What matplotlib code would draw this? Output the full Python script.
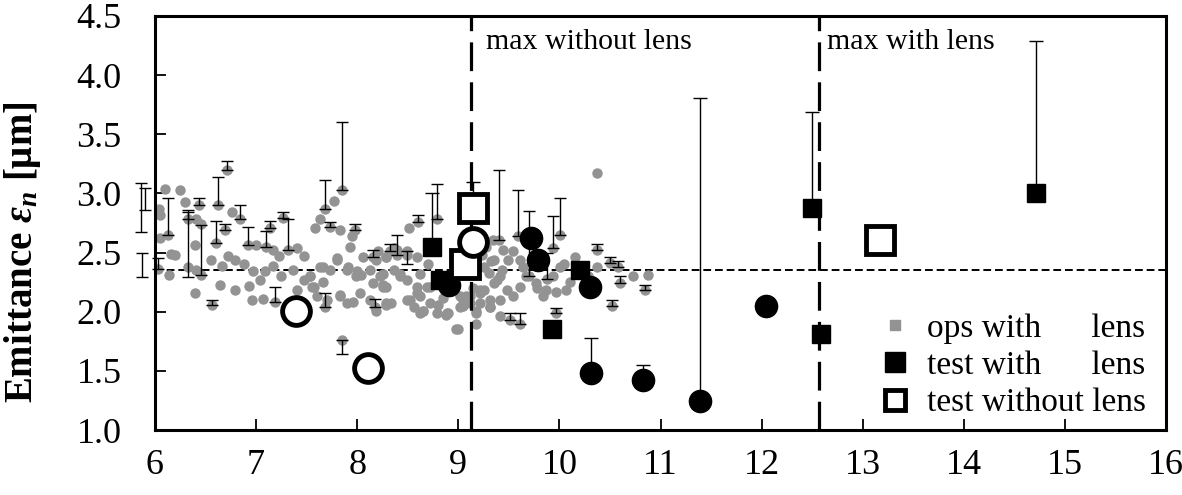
import numpy as np
import matplotlib
matplotlib.use("Agg")
import matplotlib.pyplot as plt
from matplotlib.lines import Line2D

plt.rcParams["font.family"] = ["Liberation Serif", "DejaVu Serif"]
plt.rcParams["mathtext.fontset"] = "custom"
plt.rcParams["mathtext.rm"] = "Liberation Serif:bold"
plt.rcParams["mathtext.it"] = "Liberation Serif:italic:bold"
plt.rcParams["mathtext.bf"] = "Liberation Serif:bold"

# --- operations with lens: position, emittance, upper / lower bar ends ---
ops_x = [6.71, 6.10, 6.25, 6.04, 6.30, 6.44, 6.62, 6.76, 6.84, 6.33, 6.41, 6.46,
         6.13, 7.27, 7.14, 6.69, 6.60, 6.40, 6.16, 6.92, 7.00, 7.10, 7.17, 7.32,
         6.79, 6.66, 6.33, 6.41, 6.46, 6.14, 6.97, 7.09, 7.17, 7.37, 6.64, 6.40,
         6.79, 6.56, 6.96, 7.07, 7.19, 6.05, 6.03,
         7.85, 7.68, 7.77, 7.63, 7.58, 7.73, 7.83, 7.98, 7.95, 7.93, 7.80, 7.66,
         7.40, 7.47, 7.91, 8.00, 8.04, 8.16, 8.21, 8.39, 8.32, 8.49, 8.51, 8.60,
         8.79, 7.53, 7.55, 7.66, 7.68, 7.83, 7.96, 8.18, 8.29, 8.23, 8.29, 8.42,
         8.52, 8.59, 8.65, 8.72, 8.80, 8.90, 8.98, 7.85,
         10.37, 9.40, 9.59, 9.54, 9.61, 9.64, 10.01, 9.94, 10.01, 9.35, 9.43, 9.38,
         9.25, 9.12, 9.21, 9.31, 9.18, 9.41, 9.51, 9.61, 9.84, 9.97, 10.37, 10.37,
         10.50, 10.58, 10.60, 10.73, 10.88, 10.85, 10.52, 9.97, 9.18,
         8.36, 8.49, 8.29, 8.26, 8.33, 8.62, 8.89, 9.34, 9.32, 9.44, 9.49, 9.00,
         9.02, 9.08, 9.21, 9.31, 9.23, 9.27, 9.30, 10.15, 10.10, 10.28, 9.70,
         9.78, 9.88, 10.05, 8.70, 8.85, 8.95, 9.05, 9.15,
         5.86, 5.90, 5.87]
ops_y = [3.20, 3.04, 3.03, 2.87, 2.93, 2.90, 2.90, 2.84, 2.78, 2.78, 2.78, 2.74,
         2.65, 2.79, 2.71, 2.69, 2.58, 2.56, 2.49, 2.56, 2.56, 2.55, 2.52, 2.52,
         2.44, 2.39, 2.38, 2.35, 2.31, 2.31, 2.34, 2.34, 2.39, 2.35, 2.23, 2.16,
         2.18, 2.06, 2.10, 2.11, 2.08, 2.82, 2.36,
         3.03, 2.87, 2.94, 2.78, 2.71, 2.72, 2.69, 2.69, 2.64, 2.55, 2.45, 2.38,
         2.54, 2.47, 2.38, 2.34, 2.31, 2.46, 2.51, 2.48, 2.51, 2.51, 2.71, 2.76,
         2.78, 2.30, 2.21, 2.25, 2.04, 2.14, 2.08, 2.04, 2.06, 2.30, 2.21, 2.32,
         2.10, 2.16, 2.01, 2.21, 2.06, 1.99, 1.85, 1.76,
         3.17, 2.61, 2.64, 2.51, 2.44, 2.38, 2.65, 2.54, 2.38, 2.44, 2.35, 2.27,
         2.18, 2.13, 2.07, 2.04, 1.99, 1.96, 1.93, 1.90, 2.13, 2.17, 2.52, 2.38,
         2.41, 2.38, 2.24, 2.30, 2.31, 2.18, 2.05, 1.99, 1.90,
         2.54, 2.48, 2.46, 2.23, 2.07, 1.99, 1.99, 2.61, 2.43, 2.52, 2.44, 1.85,
         2.13, 2.09, 2.16, 2.10, 2.48, 2.55, 2.33, 2.46, 2.25, 2.30, 2.30,
         2.20, 2.28, 2.40, 2.40, 2.12, 2.25, 2.05, 2.20,
         2.67, 2.86, 2.29]
ops_top = [3.27, None, None, None, None, 2.96, 3.14, None, 2.90, 2.84, None, None,
           2.96, 2.84, 2.77, 2.74, 2.77, None, None, 2.72, None, 2.68, None, 2.78,
           None, None, 2.86, None, 2.73, None, None, None, None, None, None, None,
           None, 2.10, None, None, 2.21, None, 2.45,
           3.60, 3.11, None, None, None, 2.76, None, 2.74, None, None, None, None,
           None, None, None, None, None, 2.52, None, 2.65, 2.57, None, None, 2.82,
           3.08, None, None, None, 2.16, None, None, 2.11, None, None, None, None,
           None, None, None, None, None, None, None, None,
           None, 3.20, 3.03, None, None, None, 2.96, 2.81, None, None, None, None,
           None, None, None, None, None, None, 1.99, 1.99, None, None, 2.57, None,
           2.46, 2.43, 2.30, None, None, 2.23, 2.10, 2.03, None,
           None, None, None, None, None, None, None, None, None, None, None, None,
           None, None, None, None, None, None, None, None, None, None, 2.85,
           None, 2.50, None, None, None, None, None, None,
           3.09, 3.05, 2.50]
ops_low = {26: 2.29, 86: 1.64, 64: 2.40}

# operations without error bars in the dense band
ops_dense_x = [8.49, 8.56, 8.62, 8.65, 8.72, 8.79, 8.88, 9.05, 9.12, 9.18, 8.49,
               8.59, 8.69, 8.62, 8.59, 8.39, 8.29, 8.19, 8.06, 8.13, 8.26, 8.36,
               8.42, 7.99, 8.03, 8.16, 8.26, 7.90, 7.80, 7.73, 7.63, 7.53, 7.57,
               7.47, 7.40, 7.60, 7.70, 7.83, 7.90, 8.13, 8.19, 8.29,
               9.25, 9.35, 9.41, 9.48, 9.54, 9.61, 9.21, 9.08, 9.02, 9.31, 9.41,
               9.67, 9.77, 9.87, 9.94, 10.07,
               6.05, 6.20, 6.55, 6.72, 6.88, 7.23, 7.25, 6.93, 7.04]
ops_dense_y = [2.10, 2.04, 2.13, 2.01, 2.07, 1.99, 1.97, 2.10, 2.07, 2.01, 2.27,
               2.21, 2.21, 2.32, 2.46, 2.52, 2.46, 2.44, 2.46, 2.35, 2.32, 2.35,
               2.30, 2.30, 2.16, 2.24, 2.21, 2.35, 2.44, 2.35, 2.38, 2.30, 2.21,
               2.27, 2.18, 2.13, 2.10, 2.13, 2.07, 2.10, 2.01, 2.07,
               2.38, 2.24, 2.30, 2.18, 2.13, 2.21, 2.18, 2.13, 2.04, 2.04, 2.10,
               2.30, 2.24, 2.18, 2.30, 2.18,
               2.62, 2.48, 2.44, 2.47, 2.40, 2.47, 2.30, 2.22, 2.27]

# --- tests with lens ---
sq_x = [8.74, 8.82, 9.93, 10.20, 12.50, 12.59, 14.71]
sq_y = [2.55, 2.27, 1.85, 2.35, 2.88, 1.81, 3.00]
sq_top = [3.00, None, None, None, 3.69, None, 4.29]

circ_x = [9.72, 9.79, 10.30, 10.31, 10.83, 11.39, 12.04, 8.91]
circ_y = [2.62, 2.44, 2.21, 1.48, 1.42, 1.245, 2.05, 2.23]
circ_top = [None, None, None, 1.78, 1.55, 3.81, None, None]

# --- tests without lens ---
osq_x = [9.15, 9.07, 13.17]
osq_y = [2.88, 2.40, 2.61]
osq_top = [3.10, None, None]

ocirc_x = [9.15, 7.39, 8.11]
ocirc_y = [2.59, 2.01, 1.52]

max_without_lens = 9.125
max_with_lens = 12.57
reference_level = 2.35


def bars(xs, ys, tops, lows=None):
    bx, by, lo, hi = [], [], [], []
    for i, (x, y, t) in enumerate(zip(xs, ys, tops)):
        low = (lows or {}).get(i)
        if t is None and low is None:
            continue
        bx.append(x)
        by.append(y)
        hi.append(0 if t is None else max(t - y, 0))
        lo.append(0 if low is None else max(y - low, 0))
    return bx, by, [lo, hi]


def draw_bars(ax, bx, by, be, capsize):
    cont = ax.errorbar(bx, by, yerr=be, fmt="none", ecolor="black",
                       elinewidth=1.0, capsize=capsize, capthick=1.0, zorder=3)
    for art in cont.lines[1] + cont.lines[2]:
        art.set_clip_on(False)


fig = plt.figure(figsize=(11.82, 4.95), dpi=100)
ax = fig.add_axes([0.1311, 0.1313, 0.8554, 0.8364])

gray = "#939393"
ax.plot(ops_x, ops_y, "o", color=gray, ms=7.5, mec="none", zorder=2)
ax.plot(ops_dense_x, ops_dense_y, "o", color=gray, ms=7.5, mec="none", zorder=2)
draw_bars(ax, *bars(ops_x, ops_y, ops_top, ops_low), capsize=4.5)

ax.axhline(reference_level, color="black", lw=1.4, ls=(0, (4, 2)), zorder=1)
for xv in (max_without_lens, max_with_lens):
    ax.axvline(xv, color="black", lw=2.3, ls=(0, (9, 3.5)), zorder=4)

for xs, ys, tops in ((sq_x, sq_y, sq_top), (circ_x, circ_y, circ_top),
                     (osq_x, osq_y, osq_top)):
    draw_bars(ax, *bars(xs, ys, tops), capsize=5)

ax.plot(sq_x, sq_y, "s", color="black", ms=13, zorder=6)
ax.plot(circ_x, circ_y, "o", color="black", ms=16, zorder=6)
ax.plot(osq_x, osq_y, "s", mfc="white", mec="black", ms=20, mew=3.5, zorder=7)
ax.plot(ocirc_x, ocirc_y, "o", mfc="white", mec="black", ms=20, mew=3.5, zorder=8)

ax.text(max_without_lens + 0.15, 4.39, "max without lens", fontsize=21.5,
        va="top", ha="left")
ax.text(max_with_lens + 0.08, 4.39, "max with lens", fontsize=21.5,
        va="top", ha="left")

handles = [
    Line2D([], [], ls="none", marker="s", color=gray, ms=7),
    Line2D([], [], ls="none", marker="s", color="black", ms=14),
    Line2D([], [], ls="none", marker="s", mfc="white", mec="black", ms=15, mew=3.5),
]
labels = ["ops with      lens", "test with      lens", "test without lens"]
ax.legend(handles, labels, loc="lower right", bbox_to_anchor=(1.0, -0.02),
          frameon=False, fontsize=24, handlelength=0.8, handletextpad=0.55,
          labelspacing=0.2, borderaxespad=0.2)

ax.set_xlim(6, 16)
ax.set_ylim(1.0, 4.5)
ax.set_xticks(np.arange(6, 17, 1))
ax.set_yticks(np.arange(1.0, 4.51, 0.5))
ax.set_yticklabels([f"{v:.1f}" for v in np.arange(1.0, 4.51, 0.5)])
ax.tick_params(direction="in", length=8, width=1.3, labelsize=26,
               top=False, right=False)
ax.tick_params(axis="y", pad=24)
ax.tick_params(axis="x", pad=14)
for s in ax.spines.values():
    s.set_linewidth(2.2)

ax.set_ylabel(r"Emittance $\varepsilon_n$ [μm]", fontsize=28, fontweight="bold")
ax.yaxis.set_label_coords(-0.111, 0.43)

fig.savefig("out.png", dpi=100)
